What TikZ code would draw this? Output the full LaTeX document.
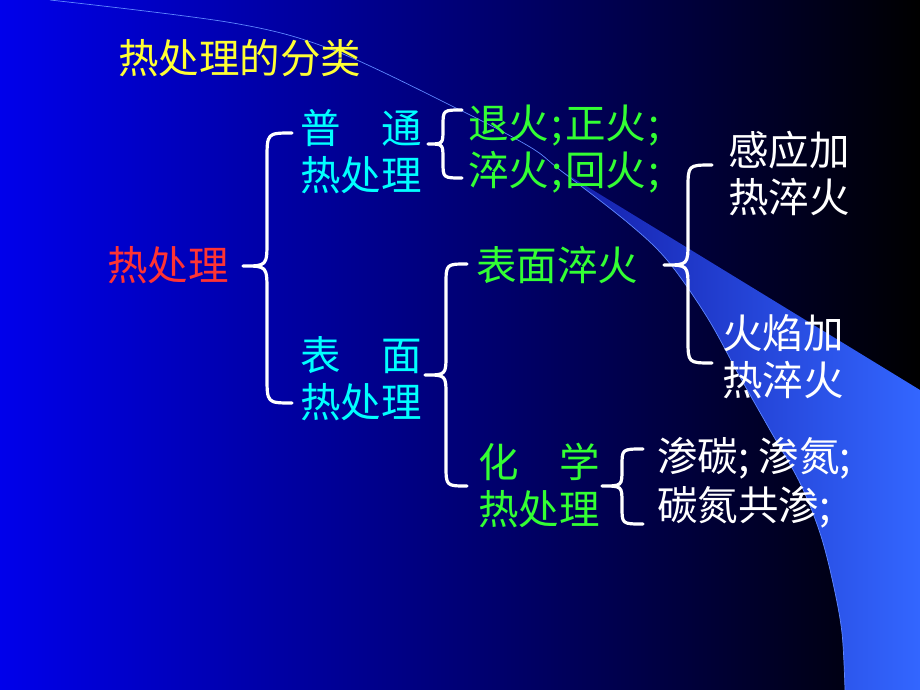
\documentclass[tikz,border=0pt]{standalone}
\usepackage{fontspec}
\newfontfamily\cjk{Noto Sans CJK SC}
\definecolor{bgL}{RGB}{0,0,235}
\definecolor{bgM}{RGB}{0,0,175}
\definecolor{swL}{RGB}{20,30,170}
\definecolor{swM}{RGB}{51,102,255}
\definecolor{swLine}{RGB}{95,135,255}
\definecolor{ttlYellow}{RGB}{255,255,51}
\definecolor{rootRed}{RGB}{255,51,51}
\definecolor{lvCyan}{RGB}{0,255,255}
\definecolor{lvGreen}{RGB}{51,255,51}
\newcommand\semi{\makebox[16pt][c]{;}}
\begin{document}
\begin{tikzpicture}[x=1pt,y=-1pt,
  txt/.style={anchor=west, inner sep=0pt, font=\cjk\fontsize{40.5}{48}\selectfont},
  curly/.style={draw=white, line width=3.2pt, line cap=round, line join=round},
]
\useasboundingbox (0,0) rectangle (920,690);
% background
\shade[left color=bgL, middle color=bgM, right color=black] (0,0) rectangle (920,690);
% swoosh wedge
\begin{scope}
  \clip plot[smooth, tension=0.55] coordinates {(50,0) (233,23) (333,50) (460,110) (530,147) (560,170) (627,222) (667,260) (707,317) (740,377) (770,430) (800,483) (820,533) (833,583) (842,633) (845,690)} -- (921,691) -- (921,-1) -- cycle;
  \shade[left color=swL, middle color=swM, right color=swM] (560,170) -- (920,390) -- (920,690) -- (560,690) -- cycle;
\end{scope}
\draw[swLine, line width=0.7pt] plot[smooth, tension=0.55] coordinates {(50,0) (233,23) (333,50) (460,110) (530,147) (560,170) (627,222) (667,260) (707,317) (740,377) (770,430) (800,483) (820,533) (833,583) (842,633) (845,690)};

% texts
\node[txt, text=ttlYellow] (title) at (118,58) {热处理的分类};
\node[txt, text=rootRed] (root) at (107,265) {热处理};
\node[txt, text=lvCyan] (pt1) at (300,128) {普\hspace{1em}通};
\node[txt, text=lvCyan] (pt2) at (300,175) {热处理};
\node[txt, text=lvGreen] (g1) at (468,126) {退火\semi 正火\semi};
\node[txt, text=lvGreen] (g2) at (468,172) {淬火\semi 回火\semi};
\node[txt, text=lvCyan] (bm1) at (300,355) {表\hspace{1em}面};
\node[txt, text=lvCyan] (bm2) at (300,402) {热处理};
\node[txt, text=lvGreen] (sq) at (476,265) {表面淬火};
\node[txt, text=lvGreen] (hx1) at (478,462) {化\hspace{1em}学};
\node[txt, text=lvGreen] (hx2) at (478,509) {热处理};
\node[txt, text=white] (s1) at (657,458) {渗碳; 渗氮;};
\node[txt, text=white] (s2) at (657,507) {碳氮共渗;};
\node[txt, text=white] (gy1) at (728,150) {感应加};
\node[txt, text=white] (gy2) at (728,197) {热淬火};
\node[txt, text=white] (hy1) at (722,333) {火焰加};
\node[txt, text=white] (hy2) at (722,380) {热淬火};

% braces
\draw[curly] (292,133) .. controls (267,133) .. (267,160) -- (267,240) .. controls (267,266) .. (243,266) .. controls (267,266) .. (267,292) -- (267,376) .. controls (267,403) .. (292,403);
\draw[curly] (462,110) .. controls (443,110) .. (443,126) -- (443,129) .. controls (443,144) .. (428,144) .. controls (443,144) .. (443,159) -- (443,162) .. controls (443,178) .. (462,178);
\draw[curly] (467,264) .. controls (446,264) .. (446,285) -- (446,354) .. controls (446,375) .. (425,375) .. controls (446,375) .. (446,396) -- (446,465) .. controls (446,486) .. (467,486);
\draw[curly] (712,165) .. controls (688,165) .. (688,189) -- (688,241) .. controls (688,265) .. (664,265) .. controls (688,265) .. (688,289) -- (688,339) .. controls (688,363) .. (712,363);
\draw[curly] (643,449) .. controls (622,449) .. (622,466) -- (622,469) .. controls (622,486) .. (602,486) .. controls (622,486) .. (622,503) -- (622,507) .. controls (622,524) .. (643,524);
\end{tikzpicture}
\end{document}
